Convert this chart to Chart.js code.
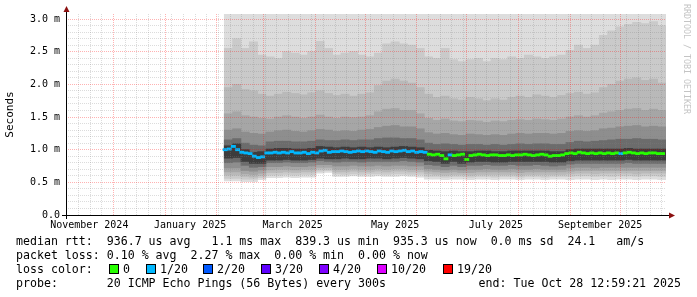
<!DOCTYPE html>
<html>
<head>
<meta charset="utf-8">
<script src="https://cdn.jsdelivr.net/npm/chart.js@4.4.1/dist/chart.umd.min.js"></script>
<style>
  html, body { margin: 0; padding: 0; background: #fff; }
  #wrap { position: relative; width: 697px; height: 297px; overflow: hidden; font-family: 'DejaVu Sans Mono', monospace; color: #000; }
  #wrap canvas { position: absolute; left: 0; top: 0; }
  .txt { position: absolute; font-size: 11.6px; line-height: 14px; white-space: pre; }
  .box { position: absolute; top: 264px; width: 8px; height: 8px; border: 1px solid #000; }
  .wm { position: absolute; left: 682px; top: 4px; writing-mode: vertical-rl; font-size: 8.3px; line-height: 10px; color: #c4c4c4; white-space: pre; }
</style>
</head>
<body>
<div id="wrap">
  <canvas id="smokeChart" width="697" height="297"></canvas>
  <div class="wm">RRDTOOL / TOBI OETIKER</div>
  <div class="txt" style="left:16px; top:234px;">median rtt:  936.7 us avg   1.1 ms max  839.3 us min  935.3 us now  0.0 ms sd  24.1   am/s</div>
  <div class="txt" style="left:16px; top:248px;">packet loss: 0.10 % avg  2.27 % max  0.00 % min  0.00 % now</div>
  <div class="txt" style="left:16px; top:262px;">loss color:</div>
  <div class="box" style="left:109px; background:#26ff00;"></div><div class="txt" style="left:123px; top:262px;">0</div>
  <div class="box" style="left:146px; background:#00b8ff;"></div><div class="txt" style="left:160px; top:262px;">1/20</div>
  <div class="box" style="left:203px; background:#0059ff;"></div><div class="txt" style="left:217px; top:262px;">2/20</div>
  <div class="box" style="left:261px; background:#5e00ff;"></div><div class="txt" style="left:275px; top:262px;">3/20</div>
  <div class="box" style="left:319px; background:#7e00ff;"></div><div class="txt" style="left:333px; top:262px;">4/20</div>
  <div class="box" style="left:377px; background:#dd00ff;"></div><div class="txt" style="left:391px; top:262px;">10/20</div>
  <div class="box" style="left:443px; background:#ff0000;"></div><div class="txt" style="left:457px; top:262px;">19/20</div>
  <div class="txt" style="left:16px; top:276px;">probe:       20 ICMP Echo Pings (56 Bytes) every 300s</div>
  <div class="txt" style="right:16px; top:276px;">end: Tue Oct 28 12:59:21 2025</div>
</div>
<script>
// days counted from 1 Nov 2024 00:00
const xMin = 1.54;    // 2 Nov 2024 13:00
const xMax = 361.54;  // 28 Oct 2025 13:00
const yMax = 3.077;   // ms, graph top (pings above are clipped)

const weekLineStart = 2;   // Sunday 3 Nov 2024
const monthLines = [30, 61, 92, 120, 151, 181, 212, 242, 273, 304, 334];
const xLabelDays = [15.5, 76, 137.5, 199, 259.5, 322];
const xLabels = ['November 2024', 'January 2025', 'March 2025', 'May 2025', 'July 2025', 'September 2025'];
const yMajor = [0, 0.5, 1.0, 1.5, 2.0, 2.5, 3.0];
const yTickLabels = ['0.0', '0.5 m', '1.0 m', '1.5 m', '2.0 m', '2.5 m', '3.0 m'];

// smoke columns: 5 days each, first centred on day 99
const smokeFirstDay = 99;
const smokeStep = 5;
// ping distribution boundaries (ms), outermost first
const l1 = [0.52,0.52,0.51,0.51,0.54,0.57,0.57,0.58,0.57,0.58,0.58,0.64,0.65,0.59,0.59,0.6,0.59,0.59,0.6,0.59,0.59,0.6,0.59,0.58,0.55,0.55,0.54,0.55,0.55,0.54,0.55,0.55,0.54,0.55,0.55,0.54,0.55,0.55,0.54,0.55,0.55,0.54,0.55,0.55,0.54,0.55,0.54,0.55,0.55,0.54,0.55,0.55,0.54];
const l2 = [0.56,0.56,0.55,0.55,0.57,0.61,0.61,0.62,0.61,0.62,0.62,0.67,0.68,0.63,0.62,0.63,0.62,0.63,0.63,0.62,0.63,0.63,0.62,0.62,0.59,0.59,0.58,0.59,0.59,0.58,0.59,0.59,0.58,0.59,0.59,0.58,0.59,0.59,0.58,0.59,0.59,0.59,0.6,0.6,0.59,0.6,0.59,0.6,0.6,0.59,0.6,0.6,0.59];
const l3 = [0.61,0.61,0.59,0.58,0.6,0.65,0.65,0.66,0.65,0.66,0.66,0.7,0.7,0.66,0.66,0.67,0.66,0.66,0.67,0.66,0.67,0.67,0.66,0.66,0.63,0.62,0.61,0.62,0.62,0.61,0.62,0.62,0.62,0.62,0.62,0.61,0.62,0.62,0.62,0.62,0.62,0.63,0.64,0.64,0.63,0.64,0.64,0.64,0.64,0.63,0.64,0.64,0.64];
const l4 = [0.66,0.66,0.63,0.62,0.64,0.69,0.7,0.7,0.69,0.7,0.7,0.73,0.73,0.7,0.7,0.71,0.7,0.7,0.71,0.7,0.71,0.71,0.7,0.7,0.67,0.66,0.65,0.66,0.65,0.65,0.66,0.66,0.66,0.66,0.66,0.65,0.66,0.66,0.66,0.66,0.66,0.67,0.68,0.68,0.68,0.68,0.68,0.68,0.68,0.68,0.68,0.68,0.68];
const l5 = [0.72,0.72,0.68,0.67,0.69,0.74,0.74,0.75,0.74,0.74,0.75,0.77,0.77,0.75,0.75,0.76,0.75,0.75,0.76,0.75,0.76,0.76,0.75,0.75,0.71,0.7,0.69,0.7,0.69,0.7,0.7,0.71,0.7,0.7,0.71,0.7,0.7,0.71,0.7,0.7,0.7,0.72,0.73,0.73,0.72,0.73,0.73,0.73,0.73,0.73,0.73,0.73,0.73];
const l6 = [0.8,0.81,0.76,0.73,0.74,0.8,0.8,0.81,0.8,0.8,0.81,0.83,0.82,0.81,0.82,0.82,0.81,0.82,0.82,0.82,0.82,0.83,0.82,0.81,0.77,0.76,0.74,0.76,0.74,0.76,0.76,0.77,0.76,0.76,0.77,0.76,0.76,0.77,0.76,0.75,0.76,0.78,0.79,0.79,0.79,0.79,0.79,0.79,0.8,0.79,0.79,0.79,0.79];
const l7 = [0.87,0.88,0.82,0.79,0.79,0.84,0.84,0.85,0.84,0.84,0.85,0.87,0.86,0.86,0.87,0.86,0.86,0.87,0.87,0.86,0.87,0.88,0.87,0.86,0.83,0.82,0.79,0.82,0.79,0.81,0.82,0.82,0.81,0.81,0.82,0.82,0.82,0.82,0.82,0.81,0.81,0.83,0.84,0.84,0.84,0.84,0.84,0.84,0.85,0.84,0.84,0.84,0.84];
const u2 = [2.55,2.7,2.55,2.65,2.45,2.42,2.4,2.5,2.48,2.45,2.5,2.66,2.55,2.45,2.48,2.5,2.45,2.42,2.48,2.62,2.65,2.62,2.6,2.55,2.42,2.4,2.55,2.38,2.35,2.38,2.4,2.35,2.4,2.38,2.42,2.4,2.45,2.42,2.4,2.42,2.45,2.52,2.6,2.55,2.6,2.75,2.82,2.88,2.92,2.95,2.93,2.96,2.9];
const u3 = [1.95,2.0,1.92,1.9,1.85,1.82,1.85,1.88,1.86,1.84,1.87,1.9,1.86,1.83,1.85,1.82,1.85,1.87,1.98,2.05,2.08,2.05,2.02,1.95,1.85,1.8,1.82,1.78,1.76,1.8,1.78,1.75,1.78,1.76,1.8,1.82,1.8,1.84,1.82,1.8,1.83,1.86,1.88,1.85,1.87,1.95,2.0,2.05,2.08,2.1,2.06,2.08,2.02];
const u4 = [1.55,1.58,1.52,1.5,1.48,1.47,1.5,1.52,1.5,1.48,1.5,1.53,1.5,1.48,1.5,1.49,1.5,1.52,1.58,1.62,1.63,1.6,1.6,1.55,1.48,1.45,1.47,1.44,1.43,1.45,1.44,1.42,1.44,1.43,1.45,1.46,1.45,1.47,1.46,1.45,1.47,1.5,1.52,1.5,1.52,1.56,1.58,1.6,1.62,1.63,1.6,1.62,1.6];
const u5 = [1.3,1.32,1.27,1.25,1.24,1.27,1.29,1.3,1.28,1.27,1.29,1.31,1.3,1.28,1.29,1.28,1.3,1.31,1.34,1.36,1.37,1.35,1.35,1.32,1.26,1.24,1.25,1.23,1.22,1.24,1.23,1.22,1.23,1.22,1.24,1.25,1.24,1.25,1.25,1.24,1.25,1.28,1.29,1.28,1.29,1.32,1.33,1.35,1.36,1.37,1.35,1.36,1.35];
const u6 = [1.15,1.17,1.1,1.07,1.06,1.12,1.13,1.13,1.12,1.12,1.13,1.15,1.14,1.14,1.15,1.14,1.15,1.15,1.17,1.18,1.18,1.17,1.17,1.15,1.1,1.08,1.09,1.08,1.07,1.08,1.08,1.07,1.08,1.07,1.08,1.09,1.08,1.09,1.09,1.08,1.08,1.11,1.13,1.12,1.13,1.14,1.15,1.16,1.16,1.17,1.16,1.16,1.15];
const u7 = [1.06,1.09,1.0,0.96,0.97,1.01,1.02,1.02,1.01,1.01,1.02,1.05,1.04,1.03,1.04,1.03,1.04,1.03,1.04,1.03,1.04,1.05,1.04,1.03,0.99,0.98,0.97,0.98,0.97,0.97,0.98,0.98,0.97,0.97,0.98,0.98,0.98,0.98,0.98,0.97,0.97,1.0,1.01,1.01,1.01,1.01,1.01,1.01,1.02,1.01,1.01,1.01,1.01];

// median rtt every 2.5 days from day 97 (ms) and lost pings out of 20
const medianFirstDay = 97;
const medianStep = 2.5;
const median = [1.00,1.01,1.05,1.00,0.96,0.95,0.94,0.90,0.88,0.89,
  0.95,0.95,0.96,0.95,0.96,0.95,0.97,0.95,0.95,0.96,
  0.94,0.96,0.95,0.98,0.99,0.96,0.97,0.97,0.98,0.97,
  0.96,0.97,0.98,0.97,0.98,0.97,0.96,0.98,0.97,0.96,
  0.98,0.97,0.98,0.99,0.97,0.98,0.96,0.97,0.96,0.93,
  0.92,0.93,0.91,0.86,0.92,0.91,0.92,0.93,0.85,0.91,
  0.92,0.93,0.92,0.91,0.92,0.92,0.91,0.91,0.92,0.91,
  0.92,0.92,0.93,0.92,0.91,0.92,0.93,0.92,0.90,0.91,
  0.91,0.92,0.94,0.95,0.94,0.96,0.95,0.94,0.95,0.94,
  0.95,0.94,0.95,0.94,0.95,0.94,0.95,0.96,0.95,0.94,
  0.95,0.94,0.95,0.95,0.94,0.94];
const lost = [1,1,1,1,1,1,1,1,1,1, 1,1,1,1,1,1,1,1,1,1, 1,1,1,1,1,1,1,1,1,1,
  1,1,1,1,1,1,1,1,1,1, 1,1,1,1,1,1,1,1,1,0, 0,0,0,0,1,0,0,0,0,0,
  0,0,0,0,0,0,0,0,0,0, 0,0,0,0,0,0,0,0,0,0, 0,0,0,0,0,0,0,0,0,0,
  0,0,0,0,0,1,0,0,0,0, 0,0,0,0,0,0];

const lossColor = {0: '#26ff00', 1: '#00b8ff', 2: '#0059ff', 3: '#5e00ff', 4: '#7e00ff', 10: '#dd00ff', 19: '#ff0000'};
const bandColors = ['#dddddd', '#cacaca', '#b9b9b9', '#a6a6a6', '#8e8e8e', '#6c6c6c', '#3c3c3c'];
const medianHalf = 0.017;

Chart.defaults.font.family = "'DejaVu Sans Mono', monospace";
Chart.defaults.color = '#000';

const smokeDays = l1.map((_, i) => smokeFirstDay + smokeStep * i);
const medianDays = median.map((_, i) => medianFirstDay + medianStep * i);
const lows = [l1, l2, l3, l4, l5, l6, l7];
const highs = [null, u2, u3, u4, u5, u6, u7];

const smokeSets = lows.map((low, k) => ({
    xAxisID: 'xs',
    data: smokeDays.map((d, i) => ({ x: d, y: [low[i], k === 0 ? yMax : highs[k][i]] })),
    backgroundColor: bandColors[k],
    borderWidth: 0,
    grouped: false,
    barPercentage: 1,
    categoryPercentage: 1,
    order: 10 - k
}));

const medianSet = {
    xAxisID: 'xm',
    data: medianDays.map((d, i) => ({ x: d, y: [median[i] - medianHalf, median[i] + medianHalf] })),
    backgroundColor: lost.map(n => lossColor[n]),
    borderWidth: 0,
    grouped: false,
    barPercentage: 1,
    categoryPercentage: 1,
    order: 0
};

const near = (a, b) => Math.abs(a - b) < 0.01;
const minorGrid = 'rgba(130,130,130,0.28)';
const majorGrid = 'rgba(255,0,0,0.3)';

// x grid: weekly lines, monthly lines (red) and label anchors (no line)
const weekLines = [];
for (let d = weekLineStart; d <= xMax; d += 7) weekLines.push(d);
const xTicks = [...new Set([...weekLines, ...monthLines, ...xLabelDays])].sort((a, b) => a - b);
const yTicks = [];
for (let k = 0; k <= 30; k++) yTicks.push(k / 10);

const axisArrows = {
    id: 'axisArrows',
    afterDraw(chart) {
        const { ctx, chartArea: a } = chart;
        const bx = Math.round(a.left) + 0.5;
        const by = Math.round(a.bottom) + 0.5;
        ctx.save();
        ctx.strokeStyle = '#000';
        ctx.lineWidth = 1;
        ctx.beginPath();
        ctx.moveTo(a.left - 4, by); ctx.lineTo(a.right + 4, by);
        ctx.moveTo(bx, a.bottom + 4); ctx.lineTo(bx, a.top - 3);
        ctx.stroke();
        ctx.fillStyle = '#8b1010';
        ctx.beginPath();
        ctx.moveTo(a.right + 9, by); ctx.lineTo(a.right + 3, by - 3); ctx.lineTo(a.right + 3, by + 3);
        ctx.fill();
        ctx.beginPath();
        ctx.moveTo(bx, a.top - 8); ctx.lineTo(bx - 3, a.top - 2); ctx.lineTo(bx + 3, a.top - 2);
        ctx.fill();
        ctx.restore();
    }
};

new Chart(document.getElementById('smokeChart'), {
    type: 'bar',
    data: { datasets: [medianSet, ...smokeSets] },
    options: {
        responsive: false,
        animation: false,
        layout: { padding: { top: 14, right: 31, left: 0, bottom: 0 } },
        plugins: { legend: { display: false }, tooltip: { enabled: false } },
        scales: {
            x: {
                type: 'linear', position: 'bottom', min: xMin, max: xMax, offset: false,
                afterBuildTicks: s => { s.ticks = xTicks.map(v => ({ value: v })); },
                afterFit: s => { s.height = 82; },
                grid: {
                    offset: false, z: 1, drawTicks: false, lineWidth: 1,
                    color: c => {
                        const v = c.tick ? c.tick.value : null;
                        if (v === null) return 'rgba(0,0,0,0)';
                        if (xLabelDays.some(d => near(d, v))) return 'rgba(0,0,0,0)';
                        if (monthLines.some(d => near(d, v))) return majorGrid;
                        return minorGrid;
                    }
                },
                border: { display: false, dash: [1, 1] },
                ticks: {
                    autoSkip: false, maxRotation: 0, minRotation: 0, padding: 4,
                    font: { size: 10 },
                    callback: v => {
                        const i = xLabelDays.findIndex(d => near(d, v));
                        return i >= 0 ? xLabels[i] : '';
                    }
                }
            },
            xs: { type: 'linear', min: xMin, max: xMax, display: false, offset: false, grid: { offset: false }, ticks: { stepSize: 1000 } },
            xm: { type: 'linear', min: xMin, max: xMax, display: false, offset: false, grid: { offset: false }, ticks: { stepSize: 1000 } },
            y: {
                min: 0, max: yMax,
                afterBuildTicks: s => { s.ticks = yTicks.map(v => ({ value: v })); },
                afterFit: s => { s.width = 66; },
                grid: {
                    z: 1, drawTicks: false, lineWidth: 1,
                    color: c => {
                        const v = c.tick ? c.tick.value : null;
                        if (v === null) return 'rgba(0,0,0,0)';
                        return yMajor.some(m => near(m, v)) ? majorGrid : minorGrid;
                    }
                },
                border: { display: false, dash: [1, 1] },
                ticks: {
                    autoSkip: false,
                    padding: 6,
                    font: { size: 10 },
                    callback: v => {
                        const i = yMajor.findIndex(m => near(m, v));
                        return i >= 0 ? yTickLabels[i] : '';
                    }
                },
                title: { display: true, text: 'Seconds', font: { size: 11 }, padding: { top: 4, bottom: 0 } }
            }
        }
    },
    plugins: [axisArrows]
});
</script>
</body>
</html>
